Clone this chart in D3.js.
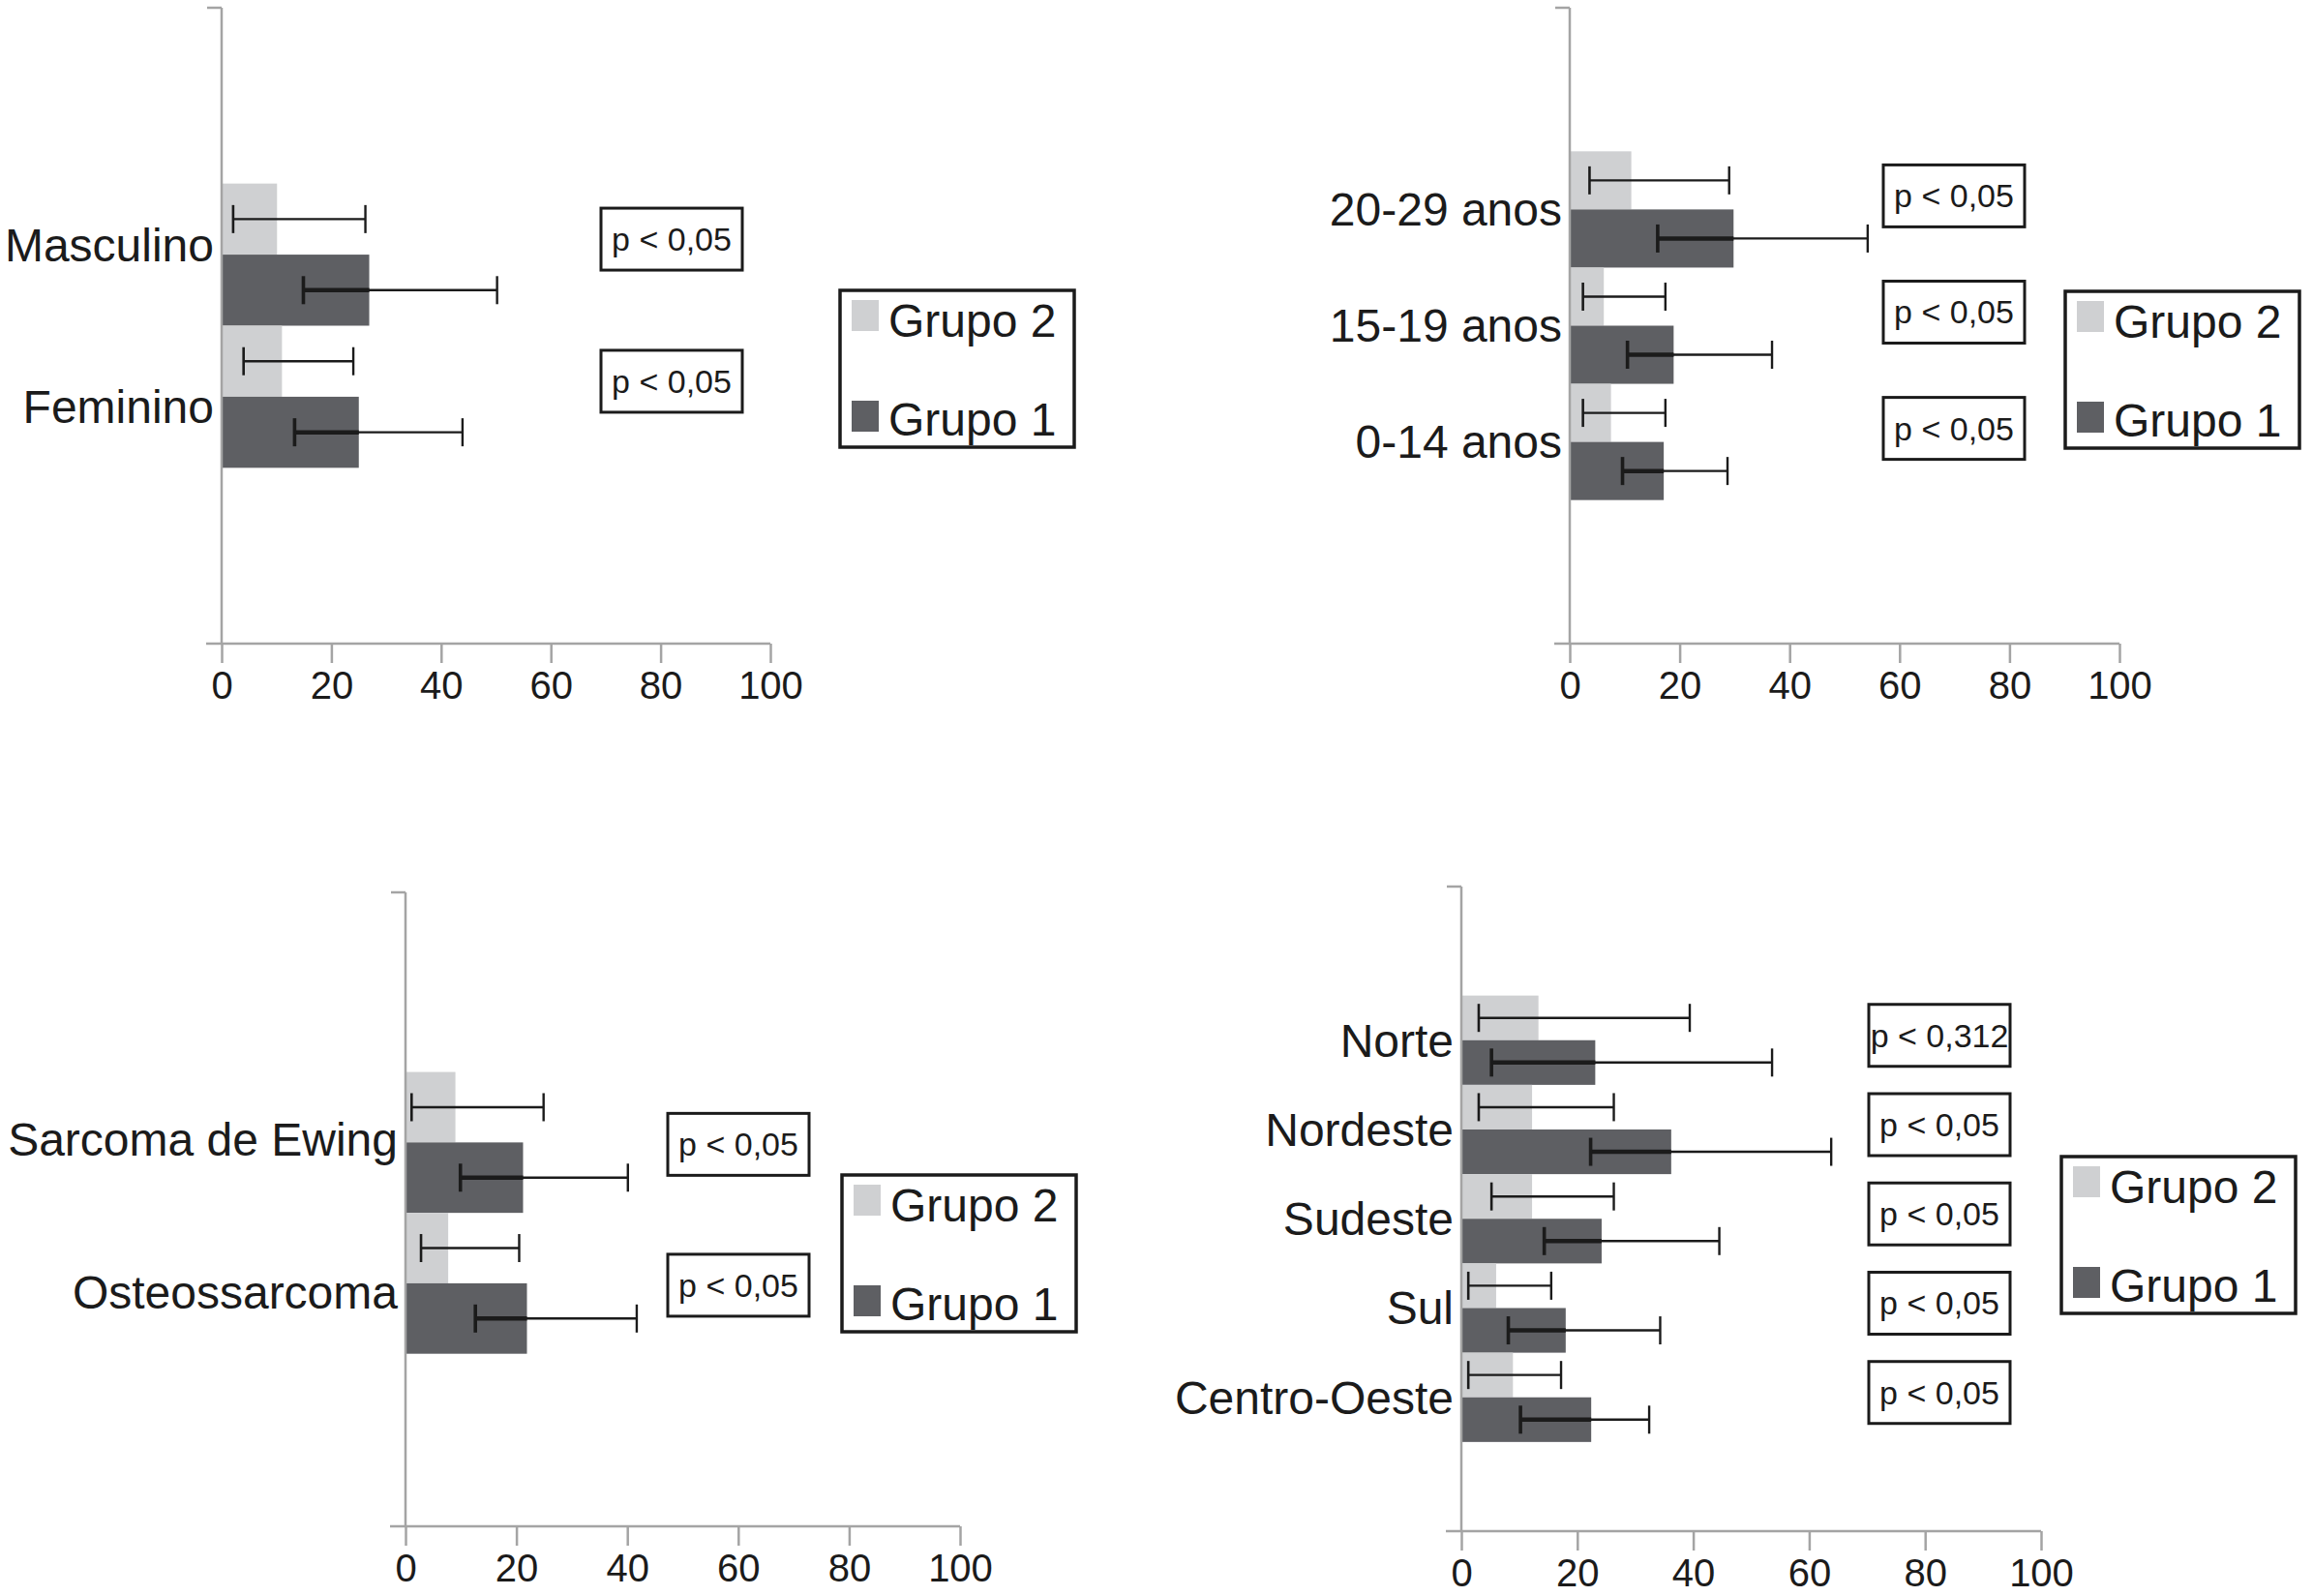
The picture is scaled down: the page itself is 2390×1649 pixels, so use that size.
<!DOCTYPE html>
<html>
<head>
<meta charset="utf-8">
<script src="https://cdn.jsdelivr.net/npm/d3@7"></script>
<style>
body { margin: 0; background: #fff; }
svg { display: block; }
</style>
</head>
<body>
<svg width="2390" height="1649"></svg>
<script>
// values (percent), error bars as [low, high]
var series = ['Grupo 2', 'Grupo 1'];
var ticks = [0, 20, 40, 60, 80, 100];

var sexoCats = ['Masculino', 'Feminino'];
var sexoGrupo2 = [10.1, 11.0];
var sexoGrupo1 = [26.9, 25.0];
var sexoErro2 = [[2.1, 26.2], [4.0, 24.0]];
var sexoErro1 = [[14.9, 50.2], [13.3, 43.9]];
var sexoP = ['p < 0,05', 'p < 0,05'];

var idadeCats = ['20-29 anos', '15-19 anos', '0-14 anos'];
var idadeGrupo2 = [11.2, 6.2, 7.5];
var idadeGrupo1 = [29.8, 18.9, 17.1];
var idadeErro2 = [[3.6, 29.0], [2.4, 17.4], [2.4, 17.4]];
var idadeErro1 = [[16.0, 54.2], [10.5, 36.8], [9.6, 28.7]];
var idadeP = ['p < 0,05', 'p < 0,05', 'p < 0,05'];

var tumorCats = ['Sarcoma de Ewing', 'Osteossarcoma'];
var tumorGrupo2 = [9.0, 7.7];
var tumorGrupo1 = [21.2, 21.9];
var tumorErro2 = [[1.1, 24.9], [2.8, 20.5]];
var tumorErro1 = [[9.9, 40.1], [12.6, 41.7]];
var tumorP = ['p < 0,05', 'p < 0,05'];

var regiaoCats = ['Norte', 'Nordeste', 'Sudeste', 'Sul', 'Centro-Oeste'];
var regiaoGrupo2 = [13.3, 12.2, 12.2, 6.0, 8.9];
var regiaoGrupo1 = [23.1, 36.2, 24.2, 18.0, 22.4];
var regiaoErro2 = [[3.0, 39.4], [3.0, 26.3], [5.2, 26.3], [1.2, 15.5], [1.2, 17.2]];
var regiaoErro1 = [[5.2, 53.6], [22.3, 63.8], [14.3, 44.5], [8.1, 34.3], [10.2, 32.4]];
var regiaoP = ['p < 0,312', 'p < 0,05', 'p < 0,05', 'p < 0,05', 'p < 0,05'];

var font = '"Liberation Sans", Arial, Helvetica, sans-serif';
var colors = ['#cfd0d2', '#5e5f63'];
var axisColor = '#a4a4a4';
var ink = '#1b1b1b';

// where each small chart sits on the page
var panels = [
    { cats: sexoCats, g2: sexoGrupo2, g1: sexoGrupo1, e2: sexoErro2, e1: sexoErro1, p: sexoP,
      x0: 229, x1: 796, top: 8, bottom: 665, pad: 1.237, align: 0.5, labelPad: 0.97, labelAlign: 0.5,
      boxX: 621, boxDy: -16, legend: [868, 300] },
    { cats: idadeCats, g2: idadeGrupo2, g1: idadeGrupo1, e2: idadeErro2, e1: idadeErro1, p: idadeP,
      x0: 1622, x1: 2190, top: 8, bottom: 665, pad: 1.235, align: 0.5, labelPad: 1.235, labelAlign: 0.5,
      boxX: 1946, boxDy: -14, legend: [2134, 301] },
    { cats: tumorCats, g2: tumorGrupo2, g1: tumorGrupo1, e2: tumorErro2, e1: tumorErro1, p: tumorP,
      x0: 419, x1: 992, top: 922, bottom: 1577, pad: 1.25, align: 0.51, labelPad: 1.07, labelAlign: 0.52,
      boxX: 690, boxDy: 2, legend: [870, 1214] },
    { cats: regiaoCats, g2: regiaoGrupo2, g1: regiaoGrupo1, e2: regiaoErro2, e1: regiaoErro1, p: regiaoP,
      x0: 1510, x1: 2109, top: 916, bottom: 1582, pad: 1.11, align: 0.55, labelPad: 1.11, labelAlign: 0.55,
      boxX: 1931, boxDy: -5, legend: [2130, 1195] }
];

var svg = d3.select('svg').style('font-family', font);

function drawPanel(p) {
    var g = svg.append('g');
    var x = d3.scaleLinear().domain([0, 100]).range([p.x0, p.x1]);
    var y = d3.scaleBand().domain(p.cats).range([p.top, p.bottom])
        .paddingInner(0).paddingOuter(p.pad).align(p.align);
    // category names sit a little apart from the bar pairs in some panels
    var yLabel = d3.scaleBand().domain(p.cats).range([p.top, p.bottom])
        .paddingInner(0).paddingOuter(p.labelPad).align(p.labelAlign);
    var half = y.bandwidth() / 2;

    var items = [];
    p.cats.forEach(function(c, i) {
        items.push({ cat: c, k: 0, v: p.g2[i], lo: p.e2[i][0], hi: p.e2[i][1] });
        items.push({ cat: c, k: 1, v: p.g1[i], lo: p.e1[i][0], hi: p.e1[i][1] });
    });
    var cy = function(d) { return y(d.cat) + d.k * half + half / 2; };

    // bars
    g.selectAll('rect.bar').data(items).enter()
        .append('rect')
        .attr('class', 'bar')
        .attr('x', x(0))
        .attr('y', function(d) { return y(d.cat) + d.k * half; })
        .attr('width', function(d) { return x(d.v) - x(0); })
        .attr('height', half)
        .style('fill', function(d) { return colors[d.k]; });

    // axes
    g.append('line')
        .attr('x1', x(0)).attr('x2', x(0))
        .attr('y1', p.top).attr('y2', p.bottom)
        .style('stroke', axisColor).style('stroke-width', 2.5);
    g.append('line')
        .attr('x1', x(0) - 15).attr('x2', x(0))
        .attr('y1', p.top).attr('y2', p.top)
        .style('stroke', axisColor).style('stroke-width', 2.5);
    g.append('line')
        .attr('x1', x(0) - 16).attr('x2', x(100))
        .attr('y1', p.bottom).attr('y2', p.bottom)
        .style('stroke', axisColor).style('stroke-width', 2.5);

    var ax = g.append('g')
        .attr('transform', 'translate(0,' + p.bottom + ')')
        .call(d3.axisBottom(x).tickValues(ticks).tickSize(20).tickPadding(9).tickFormat(d3.format('d')));
    ax.attr('font-family', font).attr('font-size', 40);
    ax.select('.domain').remove();
    ax.selectAll('line').style('stroke', axisColor).style('stroke-width', 2.5);
    ax.selectAll('text').style('fill', ink);

    // error bars
    var err = g.selectAll('g.err').data(items).enter().append('g').attr('class', 'err');
    err.append('line')
        .attr('x1', function(d) { return x(d.lo); })
        .attr('x2', function(d) { return x(d.hi); })
        .attr('y1', cy).attr('y2', cy)
        .style('stroke', ink).style('stroke-width', 2.4);
    err.filter(function(d) { return d.k === 1; }).append('line')
        .attr('x1', function(d) { return x(d.lo); })
        .attr('x2', function(d) { return x(Math.min(d.v, d.hi)); })
        .attr('y1', cy).attr('y2', cy)
        .style('stroke', ink).style('stroke-width', 4.5);
    err.append('line')
        .attr('x1', function(d) { return x(d.lo); })
        .attr('x2', function(d) { return x(d.lo); })
        .attr('y1', function(d) { return cy(d) - 14.5; })
        .attr('y2', function(d) { return cy(d) + 14.5; })
        .style('stroke', ink).style('stroke-width', function(d) { return d.k === 1 ? 3.6 : 2.6; });
    err.append('line')
        .attr('x1', function(d) { return x(d.hi); })
        .attr('x2', function(d) { return x(d.hi); })
        .attr('y1', function(d) { return cy(d) - 14.5; })
        .attr('y2', function(d) { return cy(d) + 14.5; })
        .style('stroke', ink).style('stroke-width', 2.4);

    // category labels
    g.selectAll('text.cat').data(p.cats).enter()
        .append('text')
        .attr('class', 'cat')
        .attr('x', x(0) - 8)
        .attr('y', function(c) { return yLabel(c) + yLabel.bandwidth() / 2; })
        .attr('dy', '0.35em')
        .attr('text-anchor', 'end')
        .attr('font-size', 48)
        .style('fill', ink)
        .text(function(c) { return c; });

    // p-value boxes
    var box = g.selectAll('g.pbox').data(p.cats).enter().append('g').attr('class', 'pbox');
    box.append('rect')
        .attr('x', p.boxX)
        .attr('y', function(c) { return y(c) + half + p.boxDy - 32; })
        .attr('width', 146)
        .attr('height', 64)
        .style('fill', '#fff').style('stroke', ink).style('stroke-width', 3);
    box.append('text')
        .attr('x', p.boxX + 73)
        .attr('y', function(c) { return y(c) + half + p.boxDy; })
        .attr('dy', '0.35em')
        .attr('text-anchor', 'middle')
        .attr('font-size', 34)
        .style('fill', ink)
        .text(function(c, i) { return p.p[i]; });

    // legend
    var lg = g.append('g').attr('transform', 'translate(' + p.legend[0] + ',' + p.legend[1] + ')');
    lg.append('rect')
        .attr('width', 242).attr('height', 162)
        .style('fill', '#fff').style('stroke', ink).style('stroke-width', 3.5);
    var row = lg.selectAll('g.row').data(series).enter().append('g').attr('class', 'row');
    row.append('rect')
        .attr('x', 12)
        .attr('y', function(s, i) { return 10 + i * 104; })
        .attr('width', 28).attr('height', 32)
        .style('fill', function(s, i) { return colors[i]; });
    row.append('text')
        .attr('x', 50)
        .attr('y', function(s, i) { return 48 + i * 102; })
        .attr('font-size', 48)
        .style('fill', ink)
        .text(function(s) { return s; });
}

panels.forEach(drawPanel);
</script>
</body>
</html>
